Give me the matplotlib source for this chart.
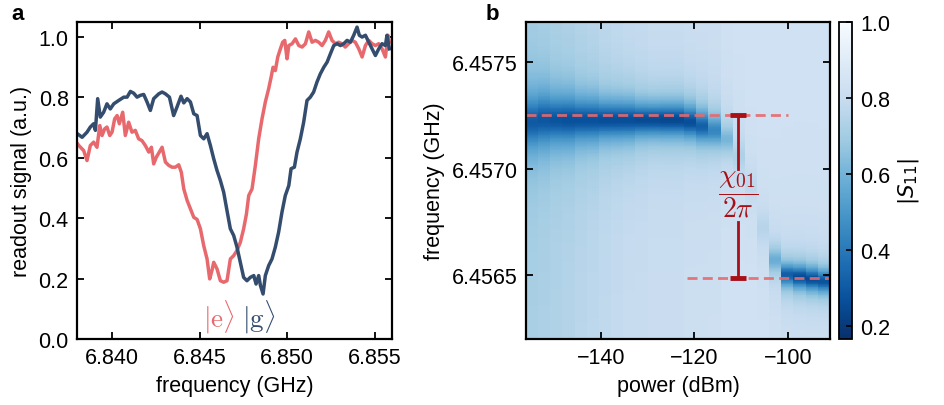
import numpy as np
import matplotlib
matplotlib.use("Agg")
import matplotlib.pyplot as plt

plt.rcParams['font.family'] = ['Liberation Sans', 'DejaVu Sans']
plt.rcParams['font.size'] = 15.5
plt.rcParams['mathtext.fontset'] = 'dejavusans'

# ---------------- Panel a data ----------------
freq_g = [6.83790, 6.83829, 6.83857, 6.83876, 6.83895, 6.83905, 6.83918, 6.83933, 6.83952, 6.83971,
          6.83990, 6.84010, 6.84038, 6.84067, 6.84086, 6.84105, 6.84124, 6.84143, 6.84162, 6.84181,
          6.84200, 6.84219, 6.84238, 6.84267, 6.84286, 6.84305, 6.84328, 6.84352, 6.84371, 6.84394,
          6.84410, 6.84429, 6.84448, 6.84467, 6.84486, 6.84505, 6.84524, 6.84543, 6.84562, 6.84581,
          6.84600, 6.84619, 6.84638, 6.84657, 6.84676, 6.84695, 6.84714, 6.84733, 6.84752, 6.84771,
          6.84790, 6.84810, 6.84823, 6.84838, 6.84848, 6.84863, 6.84876, 6.84895, 6.84914, 6.84933,
          6.84952, 6.84971, 6.84990, 6.85010, 6.85023, 6.85042, 6.85057, 6.85076, 6.85095, 6.85114,
          6.85133, 6.85152, 6.85171, 6.85190, 6.85210, 6.85229, 6.85248, 6.85267, 6.85286, 6.85305,
          6.85324, 6.85343, 6.85362, 6.85381, 6.85400, 6.85413, 6.85429, 6.85448, 6.85467, 6.85486,
          6.85505, 6.85524, 6.85543, 6.85562, 6.85571, 6.85585]
signal_g = [0.685, 0.668, 0.685, 0.702, 0.713, 0.691, 0.796, 0.735, 0.751, 0.779,
            0.762, 0.779, 0.790, 0.801, 0.801, 0.820, 0.814, 0.801, 0.807, 0.810,
            0.785, 0.757, 0.796, 0.812, 0.818, 0.812, 0.801, 0.740, 0.768, 0.804,
            0.782, 0.796, 0.785, 0.746, 0.740, 0.674, 0.663, 0.680, 0.641, 0.597,
            0.558, 0.525, 0.486, 0.425, 0.365, 0.343, 0.304, 0.254, 0.204, 0.193,
            0.204, 0.210, 0.182, 0.210, 0.177, 0.149, 0.210, 0.243, 0.265, 0.304,
            0.354, 0.420, 0.475, 0.508, 0.564, 0.569, 0.619, 0.663, 0.718, 0.790,
            0.801, 0.818, 0.851, 0.878, 0.900, 0.917, 0.945, 0.972, 0.978, 0.972,
            0.978, 0.989, 0.983, 1.006, 1.033, 1.006, 1.000, 1.006, 0.983, 0.961,
            0.939, 0.961, 0.978, 0.972, 1.006, 0.961]

freq_e = [6.83790, 6.83810, 6.83838, 6.83857, 6.83876, 6.83895, 6.83914, 6.83930, 6.83943, 6.83958,
          6.83971, 6.83987, 6.84000, 6.84015, 6.84029, 6.84042, 6.84061, 6.84076, 6.84095, 6.84114,
          6.84133, 6.84152, 6.84171, 6.84190, 6.84210, 6.84225, 6.84238, 6.84253, 6.84270, 6.84286,
          6.84305, 6.84324, 6.84343, 6.84362, 6.84381, 6.84396, 6.84410, 6.84429, 6.84448, 6.84467,
          6.84486, 6.84505, 6.84524, 6.84543, 6.84558, 6.84571, 6.84581, 6.84600, 6.84619, 6.84638,
          6.84657, 6.84676, 6.84695, 6.84714, 6.84733, 6.84752, 6.84768, 6.84781, 6.84800, 6.84819,
          6.84838, 6.84857, 6.84876, 6.84895, 6.84909, 6.84920, 6.84933, 6.84947, 6.84962, 6.84975,
          6.84987, 6.85000, 6.85010, 6.85029, 6.85048, 6.85067, 6.85086, 6.85105, 6.85124, 6.85143,
          6.85162, 6.85181, 6.85200, 6.85219, 6.85238, 6.85257, 6.85276, 6.85295, 6.85314, 6.85333,
          6.85352, 6.85371, 6.85390, 6.85410, 6.85429, 6.85448, 6.85467, 6.85486, 6.85505, 6.85524,
          6.85543, 6.85562, 6.85577, 6.85585]
signal_e = [0.657, 0.641, 0.624, 0.591, 0.641, 0.652, 0.635, 0.707, 0.674, 0.696,
            0.702, 0.674, 0.685, 0.729, 0.740, 0.713, 0.751, 0.674, 0.718, 0.685,
            0.691, 0.663, 0.657, 0.641, 0.619, 0.635, 0.580, 0.602, 0.619, 0.635,
            0.586, 0.575, 0.569, 0.569, 0.577, 0.552, 0.497, 0.459, 0.431, 0.403,
            0.396, 0.365, 0.309, 0.265, 0.199, 0.227, 0.254, 0.232, 0.193, 0.188,
            0.193, 0.265, 0.276, 0.293, 0.320, 0.365, 0.414, 0.475, 0.497, 0.575,
            0.663, 0.729, 0.785, 0.829, 0.867, 0.900, 0.889, 0.934, 0.961, 0.983,
            0.989, 0.928, 0.972, 0.978, 0.994, 0.972, 0.967, 0.978, 1.017, 0.983,
            0.989, 0.983, 0.972, 0.989, 1.017, 0.989, 0.978, 0.983, 0.978, 0.967,
            0.978, 0.989, 0.983, 0.961, 0.934, 0.972, 0.989, 0.978, 0.972, 0.978,
            0.961, 0.934, 1.006, 0.983]

# ---------------- Panel b data ----------------
power_edges = [-156.0, -153.4, -150.8, -148.2, -145.6, -143.0, -140.4, -137.8, -135.2, -132.6,
               -130.0, -127.4, -124.8, -122.2, -119.6, -117.0, -114.4, -111.8, -109.2, -106.6,
               -104.0, -101.4, -98.8, -96.2, -93.6, -91.0]
# per-column resonance centre (GHz), dip depth, half width (GHz), background level
res_center = [6.45722, 6.45723, 6.45723, 6.45723, 6.45723, 6.45723, 6.45723, 6.45723, 6.45723, 6.45723,
              6.45723, 6.45723, 6.45723, 6.45722, 6.45720, 6.45718, 6.45714, 6.45706, 6.45692, 6.45672,
              6.45657, 6.45650, 6.45649, 6.45648, 6.45647]
res_depth = [0.42, 0.44, 0.46, 0.48, 0.49, 0.50, 0.52, 0.53, 0.54, 0.55,
             0.56, 0.57, 0.57, 0.56, 0.50, 0.38, 0.22, 0.10, 0.06, 0.08,
             0.25, 0.52, 0.58, 0.58, 0.55]
res_width = [0.00011, 0.00011, 0.00010, 0.00010, 0.00009, 0.00009, 0.00008, 0.00008, 0.00008, 0.00007,
             0.00007, 0.00007, 0.00007, 0.00007, 0.00007, 0.00007, 0.00007, 0.00008, 0.00008, 0.00008,
             0.00006, 0.00005, 0.00005, 0.00005, 0.00005]
background = [0.72, 0.73, 0.74, 0.75, 0.76, 0.77, 0.78, 0.79, 0.80, 0.80,
              0.81, 0.81, 0.81, 0.82, 0.82, 0.82, 0.83, 0.83, 0.83, 0.83,
              0.83, 0.83, 0.83, 0.83, 0.83]
freq_range = [6.45620, 6.45769]
dispersive_upper = 6.457255
dispersive_lower = 6.456486

red = '#E8696D'
navy = '#344D6E'
darkred = '#A80F17'

fig = plt.figure(figsize=(9.44, 4.06), dpi=100)
axa = fig.add_axes([0.0816, 0.1626, 0.3337, 0.7808])
axb = fig.add_axes([0.5572, 0.1626, 0.3220, 0.7808])
cax = fig.add_axes([0.8888, 0.1626, 0.0138, 0.7808])

for ax in (axa, axb):
    for s in ax.spines.values():
        s.set_linewidth(1.6)
    ax.tick_params(direction='in', length=5, width=1.3, top=True, right=True,
                   labelsize=15.5, pad=6)

# panel a
axa.plot(freq_e, signal_e, color=red, lw=2.5)
axa.plot(freq_g, signal_g, color=navy, lw=2.5)
axa.set_xlim(6.838, 6.856)
axa.set_ylim(0, 1.05)
axa.set_xticks([6.840, 6.845, 6.850, 6.855])
axa.set_xticklabels(['6.840', '6.845', '6.850', '6.855'])
axa.set_yticks([0.0, 0.2, 0.4, 0.6, 0.8, 1.0])
axa.set_yticklabels(['0.0', '0.2', '0.4', '0.6', '0.8', '1.0'])
axa.set_xlabel('frequency (GHz)', labelpad=5)
axa.set_ylabel('readout signal (a.u.)', labelpad=5)
axa.text(6.8461, 0.075, r'$|\mathrm{e}\rangle$', color=red, fontsize=19.5,
         ha='center', va='center', math_fontfamily='cm')
axa.text(6.8484, 0.075, r'$|\mathrm{g}\rangle$', color=navy, fontsize=19.5,
         ha='center', va='center', math_fontfamily='cm')

# panel b heatmap built from per-column resonance parameters
freqs = np.linspace(freq_range[0], freq_range[1], 400)
fedges = np.linspace(freq_range[0], freq_range[1], 401)
cols = []
for c, d, w, b in zip(res_center, res_depth, res_width, background):
    cols.append(b - d / (1 + ((freqs - c) / w) ** 2))
Z = np.array(cols).T
mesh = axb.pcolormesh(power_edges, fedges, Z, cmap='Blues_r', vmin=0.166, vmax=1.0,
                      shading='flat', rasterized=True)
axb.set_xlim(power_edges[0], power_edges[-1])
axb.set_ylim(freq_range[0], freq_range[1])
axb.set_xticks([-140, -120, -100])
axb.set_xticklabels(['\u2212140', '\u2212120', '\u2212100'])
axb.set_yticks([6.4565, 6.4570, 6.4575])
axb.set_yticklabels(['6.4565', '6.4570', '6.4575'])
axb.set_xlabel('power (dBm)', labelpad=5)
axb.set_ylabel('frequency (GHz)', labelpad=5)

dash_kw = dict(color=red, lw=2.0, alpha=0.9, dashes=(3.6, 1.9))
axb.plot([power_edges[0], -100], [dispersive_upper, dispersive_upper], **dash_kw)
axb.plot([-121.5, power_edges[-1]], [dispersive_lower, dispersive_lower], **dash_kw)

xb = -110.6
axb.plot([xb, xb], [dispersive_upper, 6.45700], color=darkred, lw=2.0)
axb.plot([xb, xb], [6.45675, dispersive_lower], color=darkred, lw=2.0)
axb.plot([xb], [dispersive_upper], marker='_', ms=12, mew=3.5, color=darkred)
axb.plot([xb], [dispersive_lower], marker='_', ms=12, mew=3.5, color=darkred)
axb.text(xb, 6.45688, r'$\dfrac{\chi_{01}}{2\pi}$', color=darkred, fontsize=20,
         ha='center', va='center', math_fontfamily='cm')

cb = fig.colorbar(mesh, cax=cax)
cb.set_ticks([0.2, 0.4, 0.6, 0.8, 1.0])
cb.set_ticklabels(['0.2', '0.4', '0.6', '0.8', '1.0'])
cb.ax.tick_params(direction='in', length=4, width=1.2, labelsize=15.5, pad=6)
cb.outline.set_linewidth(1.3)
cb.set_label(r'$|S_{11}|$', fontsize=15.5, labelpad=4)

fig.text(0.012, 0.965, 'a', fontsize=16, fontweight='bold', va='center')
fig.text(0.514, 0.965, 'b', fontsize=16, fontweight='bold', va='center')

fig.savefig('out.png', dpi=100)
